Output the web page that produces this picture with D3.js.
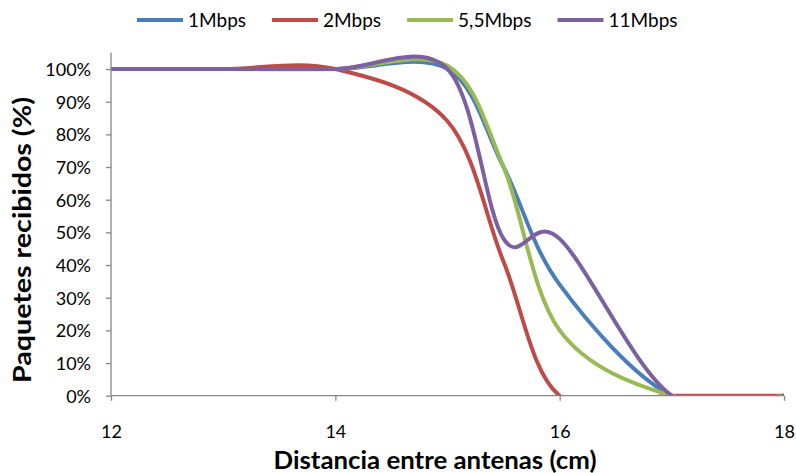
<!DOCTYPE html>
<html>
<head>
<meta charset="utf-8">
<script src="https://cdn.jsdelivr.net/npm/d3@7"></script>
<style>
  html, body { margin: 0; padding: 0; background: #fff; }
  svg { display: block; }
  text { font-family: Lato, "Noto Sans", sans-serif; fill: #000; }
</style>
</head>
<body>
<svg id="chart" width="796" height="473"></svg>
<script>
// Distance between antennas (cm)
const distances = [12, 13, 14, 15, 15.5, 16, 17, 18];

// Received packets (%) per data rate
const rate1Mbps  = [100, 100, 100, 100, 70, 34, 0, 0];
const rate2Mbps  = [100, 100, 100, 84, 41, 0, 0, 0];
const rate55Mbps = [100, 100, 100, 101, 70, 20, 0, 0];
const rate11Mbps = [100, 100, 100, 100, 48, 48, 0, 0];

const seriesNames  = ["1Mbps", "2Mbps", "5,5Mbps", "11Mbps"];
const seriesValues = [rate1Mbps, rate2Mbps, rate55Mbps, rate11Mbps];
const seriesColors = ["#4A7EBB", "#BE4B48", "#98B954", "#7D60A0"];

const xTicks = [12, 14, 16, 18];
const yTicks = [0, 10, 20, 30, 40, 50, 60, 70, 80, 90, 100];

const xTitle = "Distancia entre antenas (cm)";
const yTitle = "Paquetes recibidos (%)";

const svg = d3.select("#chart");

const plot = { left: 111, right: 784, top: 52.7, bottom: 395.7 };

const x = d3.scaleLinear().domain([12, 18]).range([plot.left, plot.right]);
const y = d3.scaleLinear().domain([0, 105]).range([plot.bottom, plot.top]);

svg.append("defs").append("clipPath").attr("id", "plot-clip")
  .append("rect")
  .attr("x", plot.left).attr("y", plot.top)
  .attr("width", plot.right - plot.left)
  .attr("height", plot.bottom - plot.top);

// Smoothed lines (cardinal spline with zero tension)
const line = d3.line()
  .x(d => x(d[0]))
  .y(d => y(d[1]))
  .curve(d3.curveCardinal.tension(0));

const linesG = svg.append("g").attr("clip-path", "url(#plot-clip)");
seriesValues.forEach((vals, i) => {
  const pts = distances.map((d, j) => [d, vals[j]]);
  linesG.append("path")
    .datum(pts)
    .attr("d", line)
    .attr("fill", "none")
    .attr("stroke", seriesColors[i])
    .attr("stroke-width", 4)
    .attr("stroke-linejoin", "round")
    .attr("stroke-linecap", "round");
});

// Axes
const axisColor = "#868686";

const xAxis = d3.axisBottom(x).tickValues(xTicks).tickSize(5).tickFormat(d3.format("d"));
const gx = svg.append("g").attr("transform", `translate(0,${plot.bottom})`).call(xAxis);
gx.select(".domain").attr("stroke", axisColor).attr("stroke-width", 1.3)
  .attr("d", `M${plot.left},0H${plot.right}`);
gx.selectAll(".tick line").attr("stroke", axisColor).attr("stroke-width", 1.3);
gx.selectAll(".tick text")
  .attr("y", 42).attr("dy", null)
  .style("font-size", "18px").style("font-family", "Lato, sans-serif").attr("fill", "#000");

const yAxis = d3.axisLeft(y).tickValues(yTicks).tickSize(5).tickFormat(d => d + "%");
const gy = svg.append("g").attr("transform", `translate(${plot.left},0)`).call(yAxis);
gy.select(".domain").attr("stroke", axisColor).attr("stroke-width", 1.3)
  .attr("d", `M0,${plot.top}V${plot.bottom}`);
gy.selectAll(".tick line").attr("stroke", axisColor).attr("stroke-width", 1.3);
gy.selectAll(".tick text")
  .attr("x", -20).attr("dy", "0.36em")
  .style("font-size", "18px").style("font-family", "Lato, sans-serif").attr("fill", "#000");

// Axis titles
svg.append("text")
  .attr("x", 435).attr("y", 469)
  .attr("text-anchor", "middle")
  .style("font-size", "25px").style("font-weight", "bold")
  .attr("textLength", 323).attr("lengthAdjust", "spacingAndGlyphs")
  .text(xTitle);

svg.append("text")
  .attr("transform", "translate(31,240) rotate(-90)")
  .attr("text-anchor", "middle")
  .style("font-size", "24px").style("font-weight", "bold")
  .attr("textLength", 286).attr("lengthAdjust", "spacingAndGlyphs")
  .text(yTitle);

// Legend
const legend = svg.append("g");
let lx = 137;
seriesNames.forEach((name, i) => {
  const item = legend.append("g");
  item.append("line")
    .attr("x1", lx).attr("x2", lx + 46)
    .attr("y1", 20).attr("y2", 20)
    .attr("stroke", seriesColors[i]).attr("stroke-width", 4);
  const t = item.append("text")
    .attr("x", lx + 51).attr("y", 20).attr("dy", "0.36em")
    .style("font-size", "19px")
    .text(name);
  const w = t.node().getComputedTextLength();
  lx += 46 + 5 + w + 26;
});
</script>
</body>
</html>
